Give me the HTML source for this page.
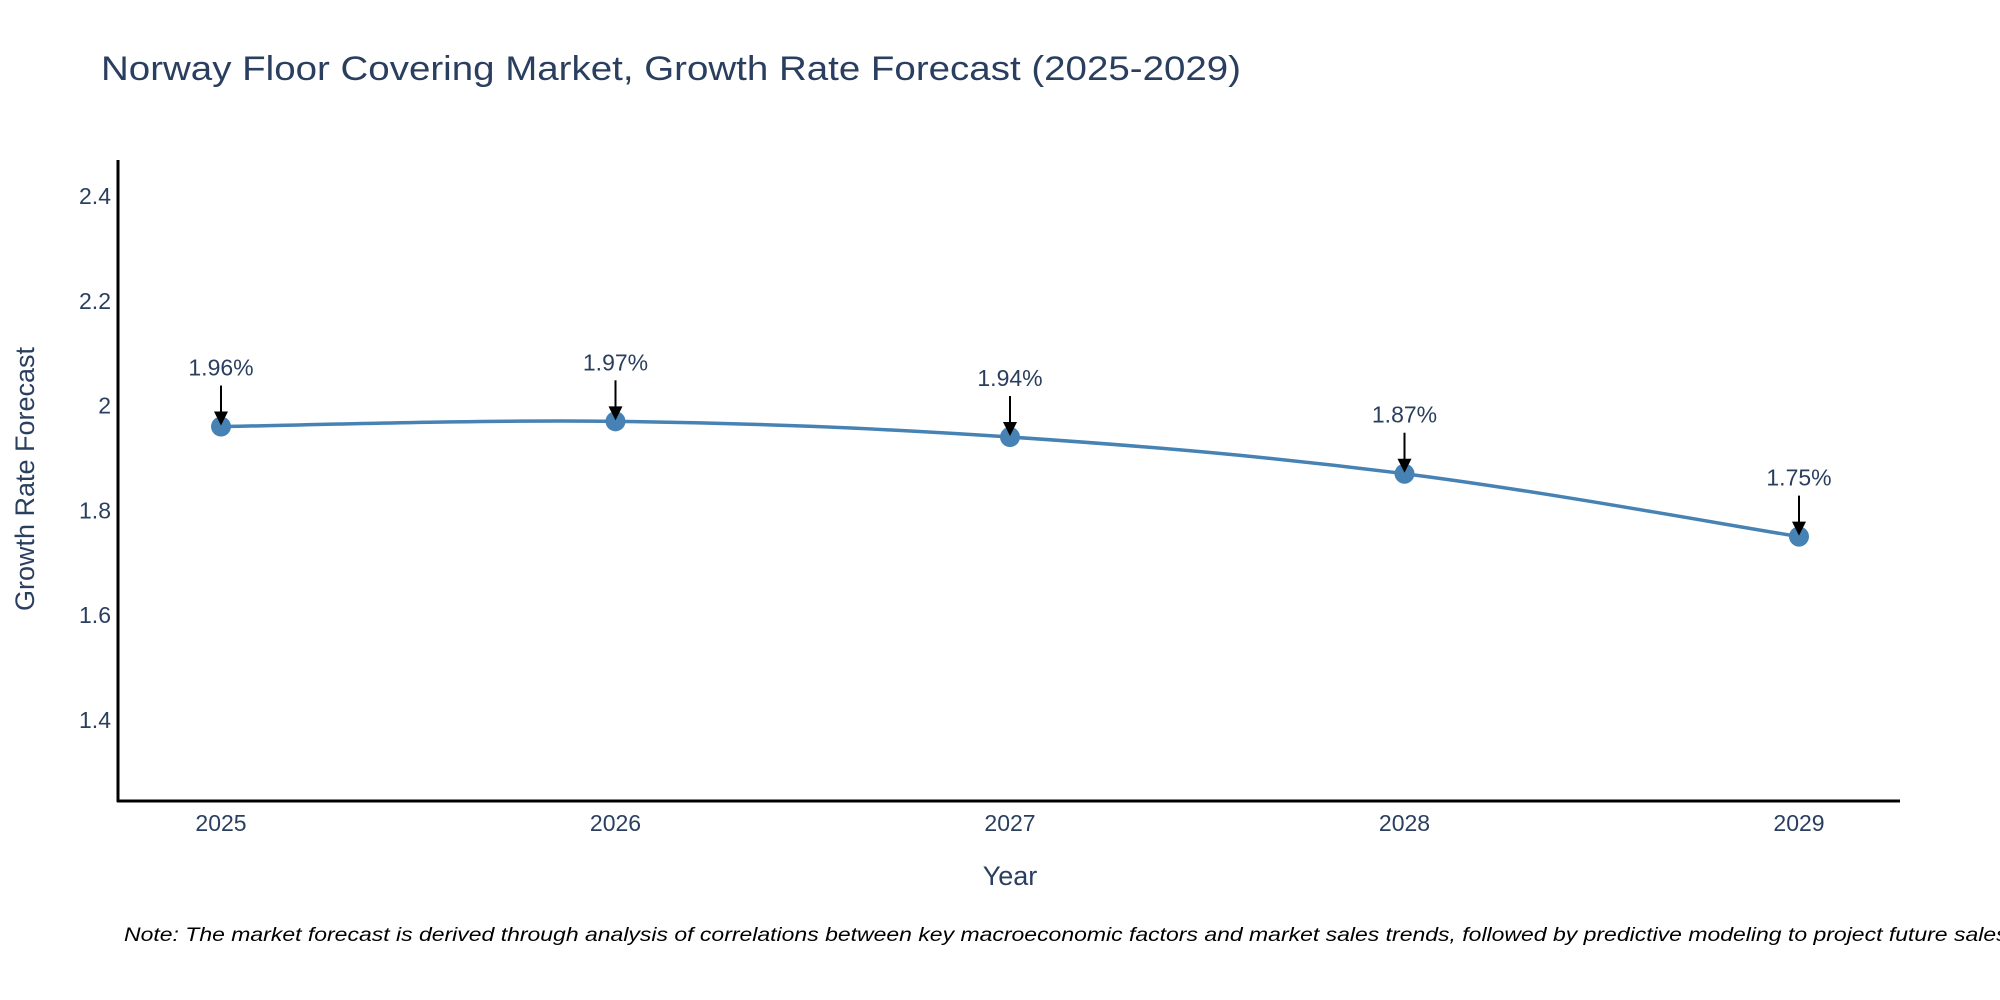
<!DOCTYPE html>
<html><head><meta charset="utf-8"><style>
html,body{margin:0;padding:0;background:#fff;}
svg{display:block;font-family:"Liberation Sans",sans-serif;}
</style></head><body>
<svg id="chart" width="2000" height="1000" viewBox="0 0 2000 1000" xmlns="http://www.w3.org/2000/svg">
<rect x="0" y="0" width="2000" height="1000" fill="#fff"/>
<text x="101" y="80" font-size="34" fill="#2a3f5f" textLength="1140" lengthAdjust="spacingAndGlyphs">Norway Floor Covering Market, Growth Rate Forecast (2025-2029)</text>
<g id="yticks"></g>
<g id="xticks"></g>
<line x1="118" y1="160" x2="118" y2="802" stroke="#000" stroke-width="3"/>
<line x1="117" y1="801" x2="1900" y2="801" stroke="#000" stroke-width="3"/>
<path id="series" fill="none" stroke="#4682B4" stroke-width="3.5"/>
<g id="points"></g>
<g id="annots"></g>
<text transform="translate(34,479) rotate(-90)" text-anchor="middle" font-size="27" fill="#2a3f5f">Growth Rate Forecast</text>
<text x="1010" y="885" text-anchor="middle" font-size="27" fill="#2a3f5f">Year</text>
<text x="124" y="941" font-size="19" font-style="italic" fill="#000" textLength="1890" lengthAdjust="spacingAndGlyphs">Note: The market forecast is derived through analysis of correlations between key macroeconomic factors and market sales trends, followed by predictive modeling to project future sales.</text>
</svg>
<script>
const years = [2025, 2026, 2027, 2028, 2029];
const values = [1.96, 1.97, 1.94, 1.87, 1.75];
const labels = ["1.96%", "1.97%", "1.94%", "1.87%", "1.75%"];
const yTicks = [1.4, 1.6, 1.8, 2, 2.2, 2.4];
const yTickLabels = ["1.4", "1.6", "1.8", "2", "2.2", "2.4"];

const NS = "http://www.w3.org/2000/svg";
function xs(v){ return 221 + (v - 2025) * 394.5; }
function ys(v){ return 720 - (v - 1.4) * 524; }
function mk(tag, attrs){ const e = document.createElementNS(NS, tag); for (const k in attrs) e.setAttribute(k, attrs[k]); return e; }

const yg = document.getElementById('yticks');
yTicks.forEach((t, i) => {
  const el = mk('text', {x: 111, y: ys(t) + 8, 'text-anchor': 'end', 'font-size': 23, fill: '#2a3f5f'});
  
  
  el.textContent = yTickLabels[i];
  yg.appendChild(el);
});
const xg = document.getElementById('xticks');
years.forEach(y => {
  const el = mk('text', {x: xs(y), y: 831, 'text-anchor': 'middle', 'font-size': 23, fill: '#2a3f5f'});
  
  
  el.textContent = String(y);
  xg.appendChild(el);
});

const P = years.map((y, i) => [xs(y), ys(values[i])]);
let d = `M${P[0][0]},${P[0][1]}`;
const k = 0.35;
for (let i = 0; i < P.length - 1; i++) {
  const p0 = P[Math.max(0, i - 1)], p1 = P[i], p2 = P[i + 1], p3 = P[Math.min(P.length - 1, i + 2)];
  const c1 = [p1[0] + (p2[0] - p0[0]) * k / 2, p1[1] + (p2[1] - p0[1]) * k / 2];
  const c2 = [p2[0] - (p3[0] - p1[0]) * k / 2, p2[1] - (p3[1] - p1[1]) * k / 2];
  d += ` C${c1[0]},${c1[1]} ${c2[0]},${c2[1]} ${p2[0]},${p2[1]}`;
}
document.getElementById('series').setAttribute('d', d);

const pg = document.getElementById('points');
const ag = document.getElementById('annots');
P.forEach((p, i) => {
  const c = mk('circle', {cx: p[0], cy: p[1], r: 10, fill: '#4682B4'});
  
  
  pg.appendChild(c);
  const ln = mk('line', {x1: p[0], y1: p[1] - 41, x2: p[0], y2: p[1] - 12, stroke: '#000', 'stroke-width': 2});
  
  
  ag.appendChild(ln);
  const hd = mk('path', {d: `M${p[0]-7},${p[1]-15} L${p[0]+7},${p[1]-15} L${p[0]},${p[1]-1} Z`, fill: '#000'});
  
  
  ag.appendChild(hd);
  const t = mk('text', {x: p[0], y: p[1] - 51, 'text-anchor': 'middle', 'font-size': 23, fill: '#2a3f5f'});
  
  
  t.textContent = labels[i];
  ag.appendChild(t);
});
</script>
</body></html>
